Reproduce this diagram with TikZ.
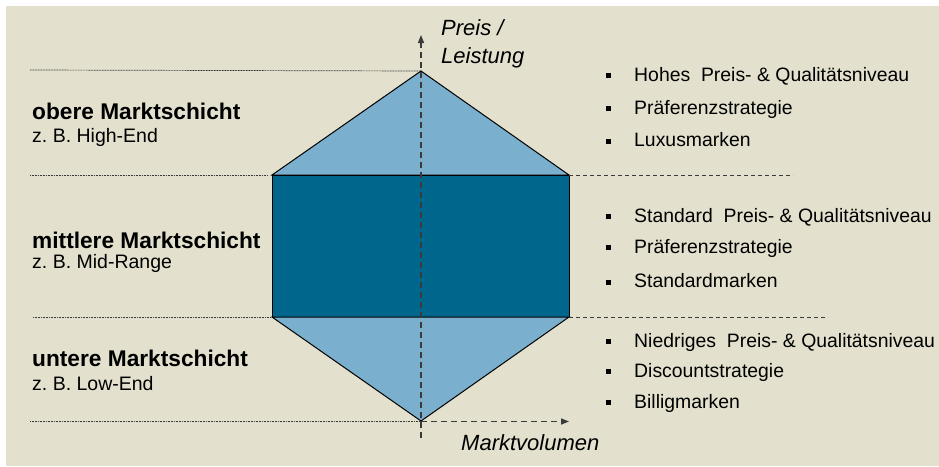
\documentclass[tikz,border=0pt]{standalone}
\usepackage{fontspec}
\setmainfont{Liberation Sans}
\usetikzlibrary{arrows.meta}
\definecolor{bgbeige}{HTML}{E3E1CD}
\definecolor{lightblue}{HTML}{7AAFCE}
\definecolor{darkblue}{HTML}{00668B}
\definecolor{linegray}{HTML}{3A3A3A}
\frenchspacing
\tikzset{
  heading/.style={anchor=west, inner sep=0pt, font=\fontsize{22.7}{26}\selectfont\bfseries},
  subline/.style={anchor=west, inner sep=0pt, font=\fontsize{19.5}{23}\selectfont},
  bulletitem/.style={anchor=west, inner sep=0pt, font=\fontsize{19.4}{23}\selectfont},
  axislabel/.style={anchor=west, inner sep=0pt, font=\fontsize{22}{27.5}\selectfont\itshape, align=left},
  guide/.style={draw=linegray, line width=0.7pt, dash pattern=on 1pt off 0.6pt},
  rightguide/.style={draw=linegray, line width=0.8pt, dash pattern=on 4pt off 3pt},
  axis/.style={draw=linegray, line width=1.4pt, dash pattern=on 6pt off 4pt, -{Triangle[length=8pt,width=6pt]}},
  shapeedge/.style={draw=black, line width=1pt, line join=miter}
}
\newcommand{\sqbullet}{\makebox[28pt][l]{\raisebox{0.3ex}{\rule{5pt}{5pt}}}}
\begin{document}
\begin{tikzpicture}[x=1pt,y=-1pt]
\useasboundingbox (0,0) rectangle (939,466);
\fill[white] (0,0) rectangle (939,466);
\fill[bgbeige] (6,6) rectangle (939,466);

% key points
\coordinate (top) at (421,71);
\coordinate (tl) at (272,175);
\coordinate (tr) at (569,175);
\coordinate (bl) at (272,317);
\coordinate (br) at (569,317);
\coordinate (bot) at (421,421);

% shapes
\filldraw[fill=lightblue, shapeedge] (top) -- (tr) -- (tl) -- cycle;
\filldraw[fill=darkblue, shapeedge] (tl) rectangle (br);
\filldraw[fill=lightblue, shapeedge] (bl) -- (br) -- (bot) -- cycle;

% left guide lines
\coordinate (g1) at (30,70);
\coordinate (g2) at (30,175);
\coordinate (g2e) at (268,175);
\coordinate (g3) at (33,317);
\coordinate (g3e) at (270,317);
\coordinate (g4) at (30,421);
\draw[guide] (g1) -- (top);
\draw[guide] (g2) -- (g2e);
\draw[guide] (g3) -- (g3e);
\draw[guide] (g4) -- (bot);

% right guide lines
\coordinate (r1) at (793,175);
\coordinate (r2) at (828,317);
\draw[rightguide] (tr) -- (r1);
\draw[rightguide] (br) -- (r2);

% axes
\coordinate (yb) at (421,438);
\coordinate (yt) at (421,35);
\coordinate (xe) at (569,421.5);
\coordinate (xs) at (421,421.5);
\draw[axis] (yb) -- (yt);
\draw[axis] (xs) -- (xe);

\node[axislabel] (ylab) at (441,44) {Preis /\\Leistung};
\node[axislabel] (xlab) at (461,443) {Marktvolumen};

% left labels
\node[heading] (h1) at (32,111) {obere Marktschicht};
\node[subline] (s1) at (32,137) {z. B. High-End};
\node[heading] (h2) at (32,240) {mittlere Marktschicht};
\node[subline] (s2) at (32,263) {z. B. Mid-Range};
\node[heading] (h3) at (32,358) {untere Marktschicht};
\node[subline] (s3) at (32,384) {z. B. Low-End};

% bullets
\node[bulletitem] (b11) at (606,76) {\sqbullet Hohes\ \ Preis- \& Qualitätsniveau};
\node[bulletitem] (b12) at (606,109) {\sqbullet Präferenzstrategie};
\node[bulletitem] (b13) at (606,140) {\sqbullet Luxusmarken};
\node[bulletitem] (b21) at (606,217) {\sqbullet Standard\ \ Preis- \& Qualitätsniveau};
\node[bulletitem] (b22) at (606,248) {\sqbullet Präferenzstrategie};
\node[bulletitem] (b23) at (606,281) {\sqbullet Standardmarken};
\node[bulletitem] (b31) at (606,342) {\sqbullet Niedriges\ \ Preis- \& Qualitätsniveau};
\node[bulletitem] (b32) at (606,372) {\sqbullet Discountstrategie};
\node[bulletitem] (b33) at (606,403) {\sqbullet Billigmarken};
\end{tikzpicture}
\end{document}
